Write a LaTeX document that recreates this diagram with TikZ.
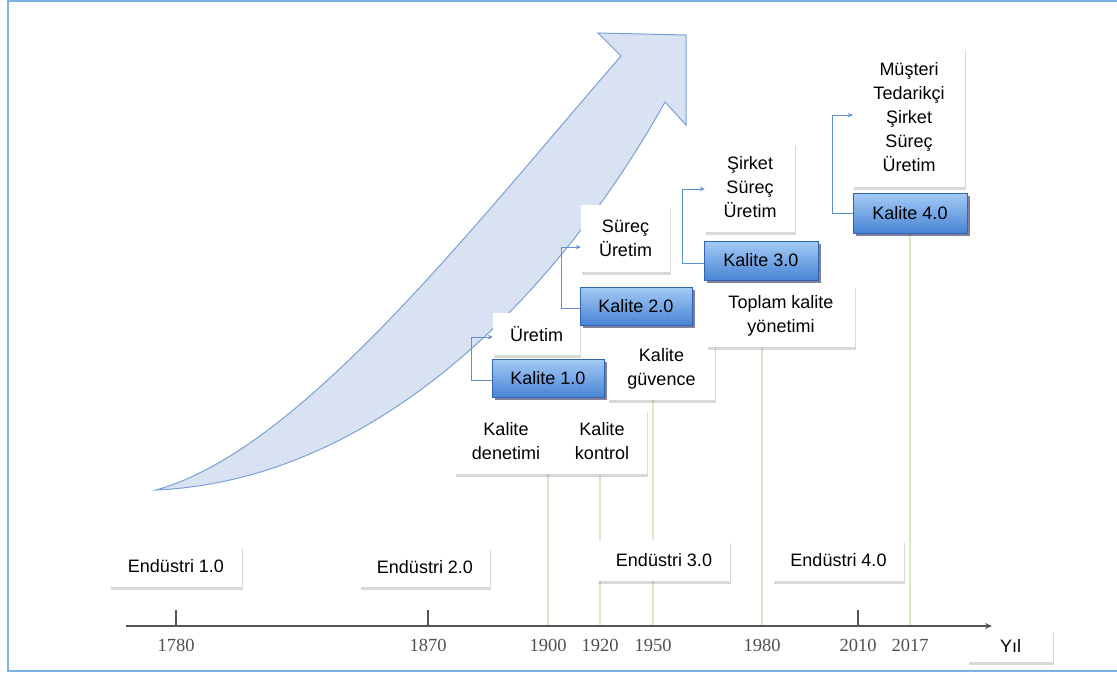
\documentclass[tikz,border=0pt]{standalone}
\usepackage{fontspec}
\setmainfont{Liberation Sans}
\newfontfamily\yearfont{Liberation Serif}
\usetikzlibrary{arrows.meta,shadows,backgrounds}
\definecolor{framec}{RGB}{125,178,224}
\definecolor{arrowfill}{RGB}{216,226,243}
\definecolor{arrowline}{RGB}{120,160,215}
\definecolor{kaltop}{RGB}{165,203,246}
\definecolor{kalbot}{RGB}{72,132,212}
\definecolor{kalline}{RGB}{50,100,180}
\definecolor{connc}{RGB}{95,145,215}
\definecolor{greenl}{RGB}{214,234,204}
\definecolor{axisc}{RGB}{85,85,85}
\definecolor{yearc}{RGB}{80,80,80}
\tikzset{
  wbox/.style={fill=white, inner sep=0pt, align=center,
    font=\fontsize{18}{24}\selectfont,
    drop shadow={shadow xshift=1pt, shadow yshift=-2.5pt, fill=black, opacity=0.15}},
  kbox/.style={top color=kaltop, bottom color=kalbot, draw=kalline, line width=0.8pt,
    inner sep=0pt, align=center, font=\fontsize{18}{24}\selectfont,
    drop shadow={shadow xshift=3pt, shadow yshift=-3pt, fill=black!80!blue, opacity=0.5}},
  conn/.style={draw=connc, line width=1pt, -{Stealth[length=5pt,width=4.5pt]}},
  gline/.style={draw=greenl, line width=1.6pt},
  tick/.style={draw=axisc, line width=1.5pt},
  year/.style={text=yearc, font=\yearfont\fontsize{18.5}{20}\selectfont, inner sep=0pt},
  bigarrow/.style={fill=arrowfill, draw=arrowline, line width=1pt, line join=miter}
}
\begin{document}
\begin{tikzpicture}[x=1pt,y=-1pt]
\useasboundingbox (0,0) rectangle (1117,675);
% frame
\draw[framec, line width=2.5pt] (1117,1) -- (8,1) -- (8,671) -- (1117,671);

% big arrow
\draw[bigarrow] (156,490) .. controls (300,450) and (470,230) .. (621,56)
  -- (598,33) -- (686,35) -- (686,125) -- (665,102)
  .. controls (560,290) and (380,480) .. (156,490) -- cycle;

% axis
\coordinate (axstart) at (126,626);
\coordinate (axend) at (992,626);
\coordinate (g1900) at (548,626);
\coordinate (g1920) at (600,626);
\coordinate (g1950) at (653,626);
\coordinate (g1980) at (762,626);
\coordinate (g2017) at (910,626);
\draw[draw=axisc, line width=1.5pt, -{Stealth[length=7pt,width=6pt]}] (axstart) -- (axend);

% nodes
\node[wbox, minimum width=132pt, minimum height=42pt] (E1) at (176,566) {Endüstri 1.0};
\node[wbox, minimum width=130pt, minimum height=40pt] (E2) at (425,567) {Endüstri 2.0};
\node[wbox, minimum width=132pt, minimum height=41pt] (E3) at (664,560.5) {Endüstri 3.0};
\node[wbox, minimum width=131pt, minimum height=41pt] (E4) at (838.5,560.5) {Endüstri 4.0};
\node[wbox, minimum width=85pt, minimum height=32pt] (Yil) at (1010.5,646) {Yıl};

\node[wbox, minimum width=102pt, minimum height=65pt] (Den) at (506,441.5) {Kalite\\denetimi};
\node[wbox, minimum width=90pt, minimum height=65pt] (Kon) at (602,441.5) {Kalite\\kontrol};
\node[wbox, minimum width=107pt, minimum height=62pt] (Guv) at (661.5,369) {Kalite\\güvence};
\node[wbox, minimum width=148pt, minimum height=62pt] (Top) at (781,316) {Toplam kalite\\yönetimi};

\node[wbox, minimum width=87pt, minimum height=42pt] (U1) at (536.5,334) {Üretim};
\node[kbox, minimum width=112pt, minimum height=38pt] (K1) at (548,378) {Kalite 1.0};
\node[wbox, minimum width=89pt, minimum height=67pt] (SU) at (625.5,238.5) {Süreç\\Üretim};
\node[kbox, minimum width=112pt, minimum height=38pt] (K2) at (636,306) {Kalite 2.0};
\node[wbox, minimum width=90pt, minimum height=89pt] (SSU) at (750,187.5) {Şirket\\Süreç\\Üretim};
\node[kbox, minimum width=114pt, minimum height=39pt] (K3) at (761,260.5) {Kalite 3.0};
\node[wbox, minimum width=112pt, minimum height=140pt] (MT) at (909,117) {Müşteri\\Tedarikçi\\Şirket\\Süreç\\Üretim};
\node[kbox, minimum width=114pt, minimum height=40pt] (K4) at (910,213) {Kalite 4.0};

% green lines behind boxes
\begin{scope}[on background layer]
\draw[gline] (Den.south -| g1900) -- (g1900);
\draw[gline] (Kon.south -| g1920) -- (g1920);
\draw[gline] (Guv.south -| g1950) -- (g1950);
\draw[gline] (Top.south -| g1980) -- (g1980);
\draw[gline] (K4.south -| g2017) -- (g2017);
\end{scope}

% connectors
\draw[conn] ([yshift=-2pt]K1.west) -- ++(-20,0) |- ([yshift=-3pt]U1.west);
\draw[conn] ([yshift=-2pt]K2.west) -- ++(-18,0) |- ([yshift=-8.5pt]SU.west);
\draw[conn] ([yshift=-2.5pt]K3.west) -- ++(-21,0) |- ([yshift=-1.5pt]SSU.west);
\draw[conn] (K4.west) -- ++(-20,0) |- ([yshift=2pt]MT.west);

% ticks
\draw[tick] (176,610) -- (176,626);
\draw[tick] (428,610) -- (428,626);
\draw[tick] (858,610) -- (858,626);

% year labels
\node[year] (y1780) at (176,645) {1780};
\node[year] (y1870) at (428,645) {1870};
\node[year] (y1900) at (548,645) {1900};
\node[year] (y1920) at (600,645) {1920};
\node[year] (y1950) at (653,645) {1950};
\node[year] (y1980) at (762,645) {1980};
\node[year] (y2010) at (858,645) {2010};
\node[year] (y2017) at (910,645) {2017};
\end{tikzpicture}
\end{document}
